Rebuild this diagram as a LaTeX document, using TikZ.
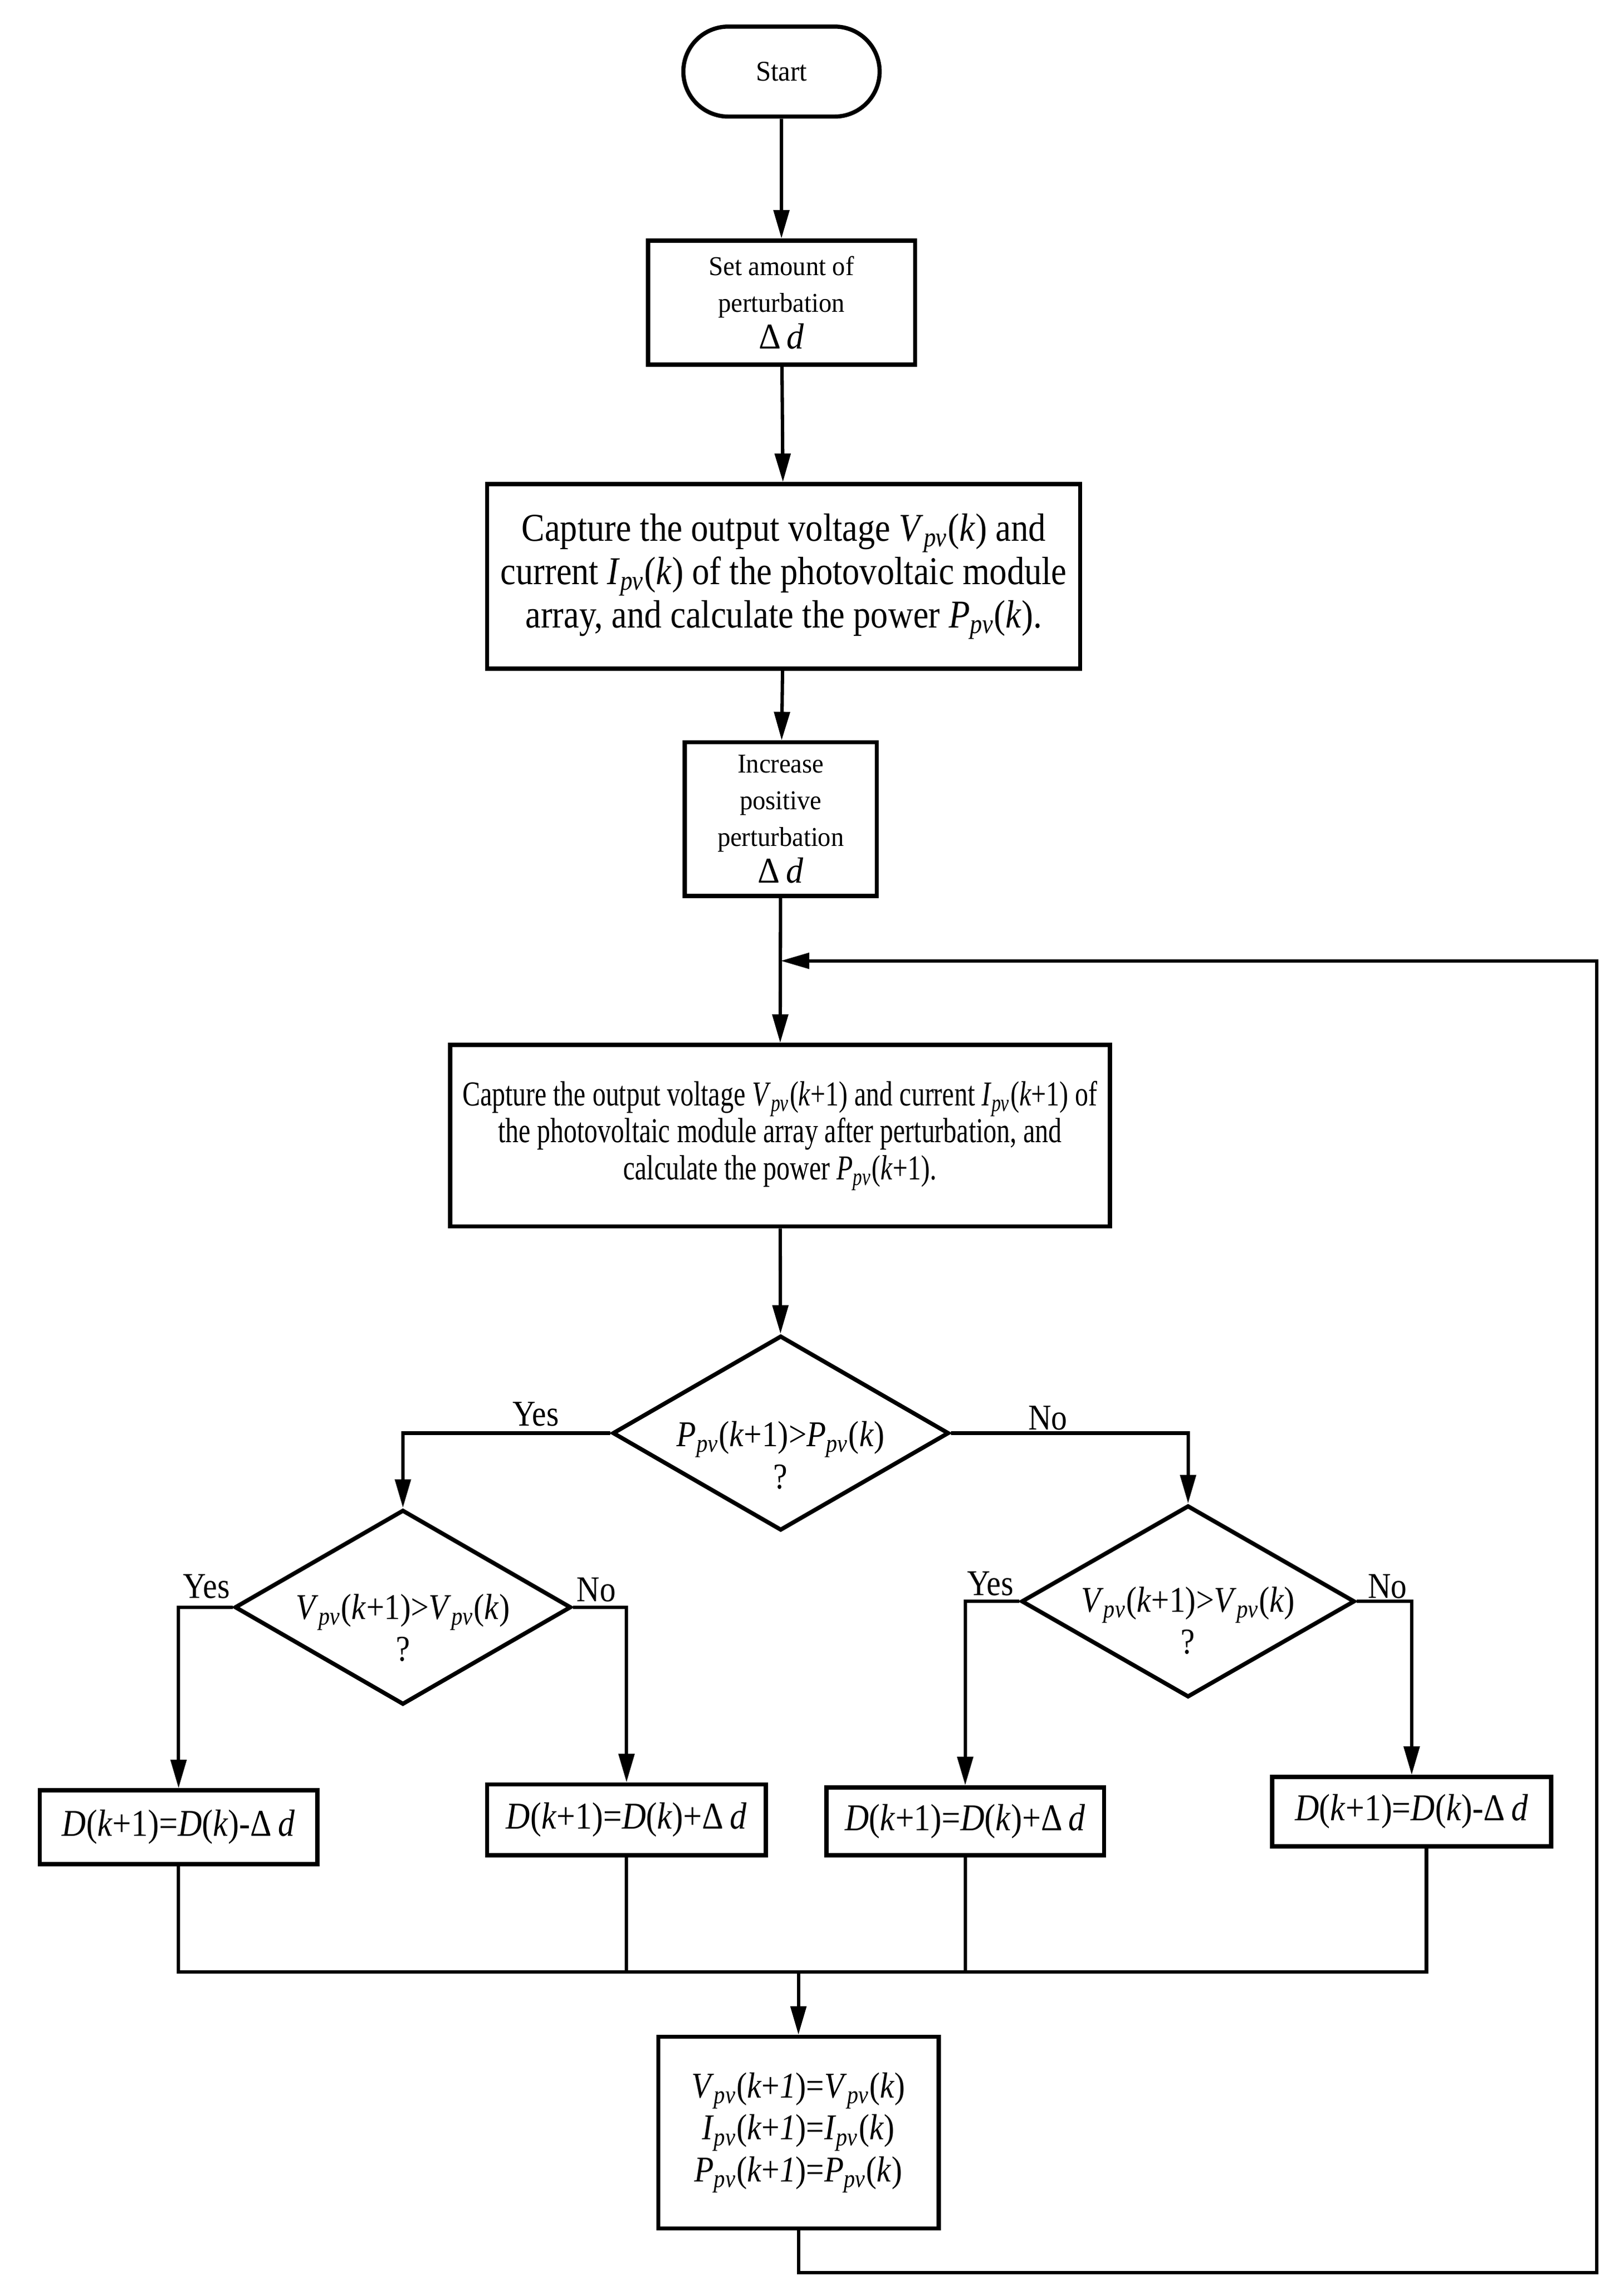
\documentclass[tikz,border=0pt]{standalone}
\usepackage{fontspec}
\setmainfont{Liberation Serif}
\newfontfamily\fa[FakeStretch=0.88]{Liberation Serif}
\newfontfamily\fb[FakeStretch=0.76]{Liberation Serif}
\newfontfamily\fc[FakeStretch=0.95]{Liberation Serif}
\usetikzlibrary{shapes.geometric,shapes.misc,arrows.meta}
\newcommand{\pv}{\textsubscript{\itshape pv}}
\newcommand{\iv}[1]{\textit{#1}}
\tikzset{
  box/.style={draw, line width=1.6pt, align=center, inner sep=0pt},
  dia/.style={draw, diamond, line width=1.6pt, inner sep=0pt},
  conn/.style={line width=1.3pt, -{Triangle[length=11pt,width=6pt]}},
  plain/.style={line width=1.3pt},
  txt/.style={align=center, inner sep=0pt},
  lbl/.style={font=\fa\fontsize{14}{16}\selectfont, inner sep=0pt},
  smallf/.style={font=\fc\fontsize{10.5}{14.2}\selectfont},
  bigf/.style={font=\fa\fontsize{15.2}{16.7}\selectfont},
  narf/.style={font=\fb\fontsize{13.5}{14.2}\selectfont},
  eqf/.style={font=\fa\fontsize{14}{16.2}\selectfont},
  deqf/.style={font=\fa\fontsize{14.6}{16.2}\selectfont}
}
\begin{document}
\begin{tikzpicture}[x=0.02cm,y=-0.02cm]
\useasboundingbox (0,0) rectangle (1100,1545.5);
% nodes
\node[draw, rounded rectangle, line width=1.6pt, minimum width=2.66cm, minimum height=1.22cm, inner sep=0pt, font=\fc\fontsize{11}{14}\selectfont] (start) at (529.5,48.5) {Start};
\node[box, smallf, minimum width=3.62cm, minimum height=1.68cm] (b1) at (529.5,205) {Set amount of\\ perturbation\\ {\fontsize{14}{14}\selectfont Δ\,\iv{d}}};
\node[box, bigf, minimum width=8.04cm, minimum height=2.5cm] (b2) at (531,390.5) {Capture the output voltage \iv{V}\pv(\iv{k}) and\\ current \iv{I}\pv(\iv{k}) of the photovoltaic module\\ array, and calculate the power \iv{P}\pv(\iv{k}).};
\node[box, smallf, minimum width=2.6cm, minimum height=2.08cm] (b3) at (529,555) {Increase\\ positive\\ perturbation\\ {\fontsize{14}{14}\selectfont Δ\,\iv{d}}};
\node[box, narf, minimum width=8.94cm, minimum height=2.46cm] (b4) at (528.5,769.5) {Capture the output voltage \iv{V}\pv(\iv{k}+1) and current \iv{I}\pv(\iv{k}+1) of\\ the photovoltaic module array after perturbation, and\\ calculate the power \iv{P}\pv(\iv{k}+1).};
\node[dia, minimum width=4.56cm, minimum height=2.64cm] (d1) at (529,971) {};
\node[txt, eqf] (t1) at (529,986) {\iv{P}\pv(\iv{k}+1)>\iv{P}\pv(\iv{k})\\ ?};
\node[dia, minimum width=4.56cm, minimum height=2.64cm] (d2) at (273,1089) {};
\node[txt, eqf] (t2) at (273,1103) {\iv{V}\pv(\iv{k}+1)>\iv{V}\pv(\iv{k})\\ ?};
\node[dia, minimum width=4.52cm, minimum height=2.6cm] (d3) at (805,1085) {};
\node[txt, eqf] (t3) at (805,1098) {\iv{V}\pv(\iv{k}+1)>\iv{V}\pv(\iv{k})\\ ?};
\node[box, deqf, minimum width=3.76cm, minimum height=1.0cm] (b5) at (121,1238) {\iv{D}(\iv{k}+1)=\iv{D}(\iv{k})-Δ\,\iv{d}};
\node[box, deqf, minimum width=3.78cm, minimum height=0.96cm] (b6) at (424.5,1233) {\iv{D}(\iv{k}+1)=\iv{D}(\iv{k})+Δ\,\iv{d}};
\node[box, deqf, minimum width=3.76cm, minimum height=0.92cm] (b7) at (654,1234) {\iv{D}(\iv{k}+1)=\iv{D}(\iv{k})+Δ\,\iv{d}};
\node[box, deqf, minimum width=3.78cm, minimum height=0.94cm] (b8) at (956.5,1227.5) {\iv{D}(\iv{k}+1)=\iv{D}(\iv{k})-Δ\,\iv{d}};
\node[box, eqf, minimum width=3.8cm, minimum height=2.6cm] (b9) at (541,1445) {\iv{V}\pv(\iv{k}+\iv{1})=\iv{V}\pv(\iv{k})\\ \iv{I}\pv(\iv{k}+\iv{1})=\iv{I}\pv(\iv{k})\\ \iv{P}\pv(\iv{k}+\iv{1})=\iv{P}\pv(\iv{k})};
% labels
\node[lbl] (y1) at (363,958) {Yes};
\node[lbl] (n1) at (710,961) {No};
\node[lbl] (y2) at (140,1075) {Yes};
\node[lbl] (n2) at (404,1077) {No};
\node[lbl] (y3) at (671,1073) {Yes};
\node[lbl] (n3) at (940,1075) {No};
% helper coordinates
\coordinate (m) at (0,1336);
\coordinate (j) at (529,651);
\coordinate (lb) at (540,1540);
\coordinate (rb) at (1082,1540);
\coordinate (rt) at (1082,651);
\coordinate (b8s) at ([xshift=0.2cm]b8.south);
% connectors
\draw[conn] (start) -- (b1);
\draw[conn] (b1) -- (b2);
\draw[conn] (b2) -- (b3);
\draw[conn] (b3) -- (b4);
\draw[conn] (b4) -- (d1);
\draw[conn] (d1.west) -| (d2.north);
\draw[conn] (d1.east) -| (d3.north);
\draw[conn] (d2.west) -| (b5.north);
\draw[conn] (d2.east) -| (b6.north);
\draw[conn] (d3.west) -| (b7.north);
\draw[conn] (d3.east) -| (b8.north);
\draw[plain] (b5.south) -- (b5.south |- m) -- (b8s |- m) -- (b8s);
\draw[plain] (b6.south) -- (b6.south |- m);
\draw[plain] (b7.south) -- (b7.south |- m);
\draw[conn] (b9.north |- m) -- (b9.north);
\draw[conn] (b9.south) -- (b9.south |- lb) -- (rb) -- (rt) -- (j);
\end{tikzpicture}
\end{document}
